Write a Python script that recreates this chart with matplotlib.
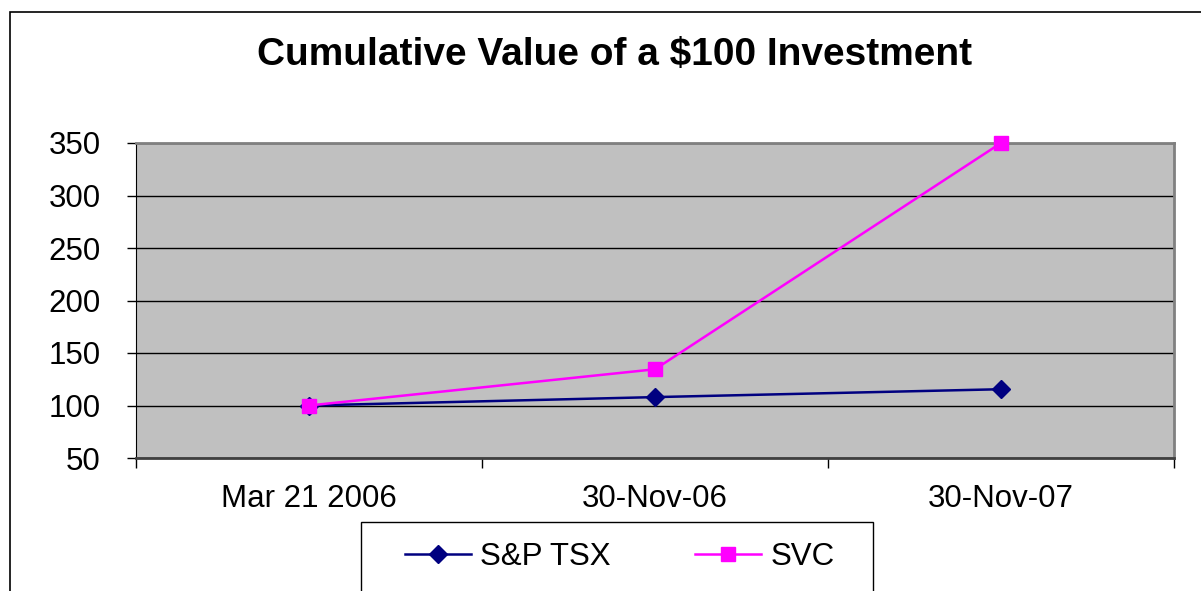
import matplotlib.pyplot as plt
from matplotlib.patches import Rectangle
from matplotlib.lines import Line2D

plt.rcParams['font.family'] = ['Liberation Sans', 'DejaVu Sans']

# data
dates = ['Mar 21 2006', '30-Nov-06', '30-Nov-07']
sp_tsx = [100, 108, 115.5]
svc = [100, 134.5, 350]
yticks = [50, 100, 150, 200, 250, 300, 350]

fig = plt.figure(figsize=(12.01, 5.91), dpi=100)

# outer chart border
fig.patches.append(Rectangle((10 / 1201, -0.1), 1.2, 1 - 12 / 591 + 0.1,
                             transform=fig.transFigure, fill=False,
                             edgecolor='black', linewidth=1.2))

ax = fig.add_axes([136 / 1201, 1 - 458 / 591, 1038 / 1201, 315 / 591])
ax.set_facecolor('#C0C0C0')
xs = [0.5, 1.5, 2.5]
ax.plot(xs, sp_tsx, color='#000080', lw=1.8, marker='D', ms=9, label='S&P TSX',
        clip_on=False, zorder=3)
ax.plot(xs, svc, color='#FF00FF', lw=1.8, marker='s', ms=10, label='SVC',
        clip_on=False, zorder=4)

ax.set_xlim(0, 3)
ax.set_ylim(50, 350)
ax.set_yticks(yticks)
ax.yaxis.grid(True, color='black', lw=1)
ax.set_axisbelow(True)
ax.tick_params(axis='y', length=6.5, width=1, labelsize=22.5, pad=19)
ax.set_xticks([0, 1, 2, 3])
ax.set_xticklabels([])
ax.tick_params(axis='x', which='major', length=7, width=1, direction='out')
ax.set_xticks(xs, minor=True)
ax.set_xticklabels(dates, minor=True, fontsize=22.5)
ax.tick_params(axis='x', which='minor', length=0, pad=19)
for s in ['top', 'right']:
    ax.spines[s].set_color('#808080')
    ax.spines[s].set_linewidth(2)
ax.spines['left'].set_color('black')
ax.spines['bottom'].set_color('#404040')
ax.spines['bottom'].set_linewidth(2)

fig.text(615 / 1201, 1 - 55 / 591, 'Cumulative Value of a $100 Investment',
         ha='center', va='center', fontsize=28, fontweight='bold')

# legend box
fig.patches.append(Rectangle((361 / 1201, -0.1), 512 / 1201, 1 - 522 / 591 + 0.1,
                             transform=fig.transFigure, fill=False,
                             edgecolor='black', linewidth=1))
handles = [Line2D([], [], color='#000080', lw=1.8, marker='D', ms=9),
           Line2D([], [], color='#FF00FF', lw=1.8, marker='s', ms=10)]
fig.legend(handles, ['S&P TSX', 'SVC'], loc='center', ncol=2,
           bbox_to_anchor=(620 / 1201, 1 - 557 / 591), frameon=False,
           fontsize=22.5, handlelength=2.1, columnspacing=2.7, handletextpad=0.3)

fig.savefig('out.png', dpi=100)
